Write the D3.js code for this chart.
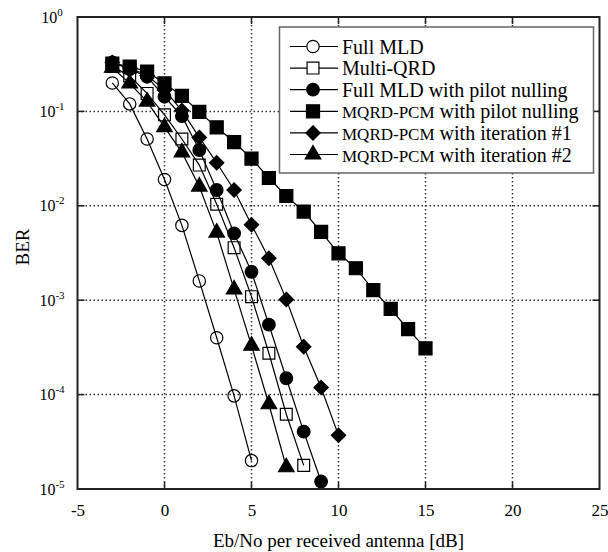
<!DOCTYPE html>
<html>
<head>
<meta charset="utf-8">
<script src="https://cdn.jsdelivr.net/npm/d3@7"></script>
<style>
  html, body { margin: 0; padding: 0; background: #fff; }
  svg { display: block; }
  text { font-family: "Liberation Serif", "Times New Roman", serif; fill: #000; }
</style>
</head>
<body>
<svg id="chart" width="608" height="552"></svg>
<script>
// Eb/No (dB) sample points and measured BER for each receiver
const ebnoFullMLD = [-3, -2, -1, 0, 1, 2, 3, 4, 5];
const berFullMLD = [0.2, 0.12, 0.051, 0.019, 0.0062, 0.0016, 0.0004, 0.000097, 0.00002];

const ebnoMultiQRD = [-3, -2, -1, 0, 1, 2, 3, 4, 5, 6, 7, 8];
const berMultiQRD = [0.30, 0.237, 0.155, 0.092, 0.051, 0.027, 0.0104, 0.0036, 0.00109, 0.000274, 0.000062, 0.0000178];

const ebnoFullMLDPilot = [-3, -2, -1, 0, 1, 2, 3, 4, 5, 6, 7, 8, 9];
const berFullMLDPilot = [0.33, 0.28, 0.233, 0.143, 0.089, 0.039, 0.0147, 0.0051, 0.0020, 0.00055, 0.000149, 0.0000405, 0.000012];

const ebnoMqrdPilot = [-3, -2, -1, 0, 1, 2, 3, 4, 5, 6, 7, 8, 9, 10, 11, 12, 13, 14, 15];
const berMqrdPilot = [0.32, 0.298, 0.264, 0.198, 0.146, 0.0986, 0.0678, 0.0474, 0.0316, 0.0197, 0.0127, 0.0087, 0.0053, 0.00314, 0.00218, 0.00128, 0.000807, 0.000495, 0.000309];

const ebnoIter1 = [-3, -2, -1, 0, 1, 2, 3, 4, 5, 6, 7, 8, 9, 10];
const berIter1 = [0.33, 0.29, 0.24, 0.169, 0.102, 0.053, 0.0286, 0.0147, 0.0063, 0.00278, 0.00102, 0.000322, 0.000119, 0.000037];

const ebnoIter2 = [-3, -2, -1, 0, 1, 2, 3, 4, 5, 6, 7];
const berIter2 = [0.29, 0.198, 0.127, 0.068, 0.0368, 0.016, 0.0052, 0.0013, 0.00033, 0.000079, 0.000017];

const xTicks = [-5, 0, 5, 10, 15, 20, 25];
const yExponents = [0, -1, -2, -3, -4, -5];

const seriesNames = [
  ["Full MLD"],
  ["Multi-QRD"],
  ["Full MLD with pilot nulling"],
  ["MQRD-PCM", " with pilot nulling"],
  ["MQRD-PCM", " with iteration #1"],
  ["MQRD-PCM", " with iteration #2"]
];

const series = [
  { x: ebnoFullMLD, y: berFullMLD, symbol: d3.symbolCircle, size: 120, filled: false },
  { x: ebnoMultiQRD, y: berMultiQRD, symbol: d3.symbolSquare, size: 140, filled: false },
  { x: ebnoFullMLDPilot, y: berFullMLDPilot, symbol: d3.symbolCircle, size: 125, filled: true },
  { x: ebnoMqrdPilot, y: berMqrdPilot, symbol: d3.symbolSquare, size: 170, filled: true },
  { x: ebnoIter1, y: berIter1, symbol: d3.symbolDiamond2, size: 130, filled: true },
  { x: ebnoIter2, y: berIter2, symbol: d3.symbolTriangle, size: 105, filled: true }
];

const svg = d3.select("#chart");
const plotLeft = 77.5, plotRight = 599.5, plotTop = 17, plotBottom = 489;

const x = d3.scaleLinear().domain([-5, 25]).range([plotLeft, plotRight]);
const y = d3.scaleLog().domain([1e-5, 1]).range([plotBottom, plotTop]);

// dotted grid
const grid = svg.append("g").attr("stroke", "#333").attr("stroke-width", 1.5)
  .attr("stroke-dasharray", "1.5,2.5");
grid.selectAll("line.v").data(xTicks.slice(1, -1)).join("line").attr("class", "v")
  .attr("x1", d => x(d)).attr("x2", d => x(d)).attr("y1", plotTop).attr("y2", plotBottom);
grid.selectAll("line.h").data(yExponents.slice(1, -1)).join("line").attr("class", "h")
  .attr("y1", d => y(Math.pow(10, d))).attr("y2", d => y(Math.pow(10, d)))
  .attr("x1", plotLeft).attr("x2", plotRight);

// inward tick marks on all four sides
const tickLen = 7;
const ticks = svg.append("g").attr("stroke", "#222").attr("stroke-width", 1.5);
xTicks.slice(1, -1).forEach(t => {
  ticks.append("line").attr("x1", x(t)).attr("x2", x(t)).attr("y1", plotBottom).attr("y2", plotBottom - tickLen);
  ticks.append("line").attr("x1", x(t)).attr("x2", x(t)).attr("y1", plotTop).attr("y2", plotTop + tickLen);
});
yExponents.slice(1, -1).forEach(e => {
  const yy = y(Math.pow(10, e));
  ticks.append("line").attr("x1", plotLeft).attr("x2", plotLeft + tickLen).attr("y1", yy).attr("y2", yy);
  ticks.append("line").attr("x1", plotRight).attr("x2", plotRight - tickLen).attr("y1", yy).attr("y2", yy);
});

// x axis labels
const xAxis = d3.axisBottom(x).tickValues(xTicks).tickSize(0).tickPadding(0)
  .tickFormat(d => d);
const xg = svg.append("g").attr("transform", `translate(0,${plotBottom})`).call(xAxis);
xg.select(".domain").remove();
xg.selectAll("text").attr("y", 27).attr("dy", 0)
  .style("font-family", '"Liberation Serif", serif').style("font-size", "17px").attr("fill", "#000");

// y axis labels as powers of ten
const yl = svg.append("g");
yExponents.forEach(e => {
  const t = yl.append("text").attr("x", 52).attr("y", y(Math.pow(10, e)) + 5.5)
    .attr("text-anchor", "middle").style("font-size", "16px");
  t.append("tspan").text("10");
  t.append("tspan").attr("dy", -7).style("font-size", "11px").text(String(e));
});

// axis titles
svg.append("text").attr("x", (plotLeft + plotRight) / 2).attr("y", 547).attr("text-anchor", "middle")
  .style("font-size", "19px").text("Eb/No per received antenna [dB]");
svg.append("text").attr("transform", "translate(29,247) rotate(-90)")
  .attr("text-anchor", "middle").style("font-size", "19px").text("BER");

// series lines and markers
const line = d3.line().x(d => x(d[0])).y(d => y(d[1]));
series.forEach(s => {
  const pts = s.x.map((v, i) => [v, s.y[i]]);
  const g = svg.append("g");
  g.append("path").attr("d", line(pts)).attr("fill", "none")
    .attr("stroke", "#000").attr("stroke-width", 1.2);
  g.selectAll("path.m").data(pts).join("path")
    .attr("class", "m")
    .attr("transform", d => `translate(${x(d[0])},${y(d[1])})`)
    .attr("d", d3.symbol().type(s.symbol).size(s.size))
    .attr("fill", s.filled ? "#000" : "none")
    .attr("stroke", "#000").attr("stroke-width", 1.2);
});

// frame
svg.append("rect").attr("x", plotLeft).attr("y", plotTop)
  .attr("width", plotRight - plotLeft).attr("height", plotBottom - plotTop)
  .attr("fill", "none").attr("stroke", "#222").attr("stroke-width", 2);

// legend
const lg = svg.append("g");
lg.append("rect").attr("x", 279.5).attr("y", 27).attr("width", 314).attr("height", 146)
  .attr("fill", "#fff").attr("stroke", "#666").attr("stroke-width", 1.5);
series.forEach((s, i) => {
  const yy = 46.5 + i * 21.6;
  lg.append("line").attr("x1", 290).attr("x2", 338).attr("y1", yy).attr("y2", yy)
    .attr("stroke", "#000").attr("stroke-width", 1.2);
  lg.append("path").attr("transform", `translate(313,${yy})`)
    .attr("d", d3.symbol().type(s.symbol).size(s.size))
    .attr("fill", s.filled ? "#000" : "#fff")
    .attr("stroke", "#000").attr("stroke-width", 1.2);
  const t = lg.append("text").attr("x", 342).attr("y", yy + 7).style("font-size", "20px");
  const parts = seriesNames[i];
  if (parts.length === 2) {
    t.append("tspan").style("font-size", "17px").text(parts[0]);
    t.append("tspan").text(parts[1]);
  } else {
    t.append("tspan").text(parts[0]);
  }
});
</script>
</body>
</html>
